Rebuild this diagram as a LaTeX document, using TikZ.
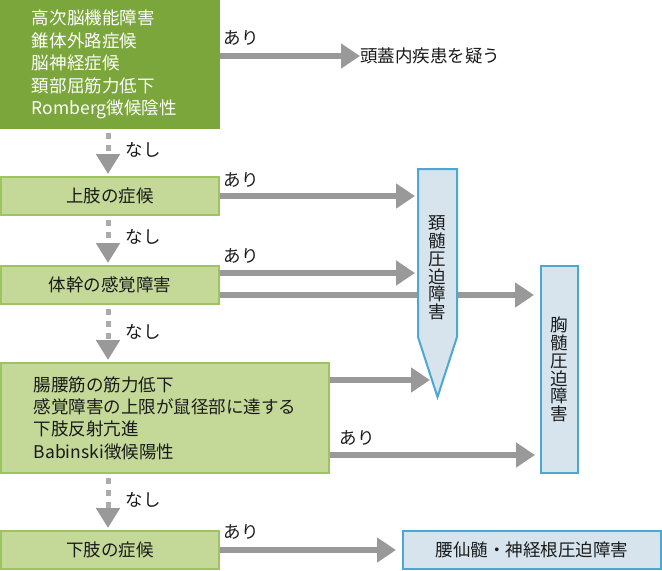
\documentclass[tikz,border=0pt]{standalone}
\usepackage{fontspec}
\setmainfont{Noto Sans CJK JP}
\usetikzlibrary{arrows.meta}

\definecolor{darkgreen}{HTML}{7AA63B}
\definecolor{lightfill}{HTML}{C4D998}
\definecolor{lightborder}{HTML}{9DC45E}
\definecolor{bluefill}{HTML}{D7E4EE}
\definecolor{blueborder}{HTML}{4AA8D2}
\definecolor{arrowgray}{HTML}{999999}
\definecolor{dashgray}{HTML}{ABABAB}
\definecolor{textblack}{HTML}{1A1A1A}

\tikzset{
  darkbox/.style={fill=darkgreen, text=white, inner sep=0pt, align=left},
  lightbox/.style={draw=lightborder, line width=1pt, fill=lightfill, text=textblack, inner sep=0pt},
  bluebox/.style={draw=blueborder, line width=1pt, fill=bluefill, text=textblack, inner sep=0pt},
  ari/.style={draw=arrowgray, line width=2.75pt, -{Triangle[length=9.5pt,width=12pt]}},
  nashi/.style={draw=dashgray, line width=2.5pt, dash pattern=on 3pt off 3pt,
    shorten <=2pt, shorten >=1pt, -{Triangle[length=10pt,width=11.5pt,color=arrowgray]}},
  lbl/.style={inner sep=0pt, text=textblack}
}

\begin{document}
\begin{tikzpicture}[x=0.5pt, y=-0.5pt, font=\fontsize{8.75pt}{11.2pt}\selectfont]
					\useasboundingbox (0,0) rectangle (662,570);
					\coordinate (col) at (108,0);
					% left column
					\node[darkbox, text width=78pt, minimum width=110pt, minimum height=64.5pt] (top) at (110,64.5) {高次脳機能障害\\錐体外路症候\\脳神経症候\\頚部屈筋力低下\\Romberg徴候陰性};
					\node[lightbox, minimum width=109pt, minimum height=19pt] (upper) at (110,196) {上肢の症候};
					\node[lightbox, minimum width=109pt, minimum height=19pt] (trunk) at (110,285) {体幹の感覚障害};
					\node[lightbox, minimum width=164pt, minimum height=55pt, align=left] (lower) at (165,418) {腸腰筋の筋力低下\\感覚障害の上限が鼠径部に達する\\下肢反射亢進\\Babinski徴候陽性};
					\node[lightbox, minimum width=109pt, minimum height=19pt] (leg) at (110,550) {下肢の症候};
					% right side
					\node[lbl, anchor=west] (sus) at (360,56) {頭蓋内疾患を疑う};
					\coordinate (cnw) at (418,169);
					\coordinate (cne) at (457,169);
					\coordinate (cse) at (457,337);
					\coordinate (ctip) at (437.5,397);
					\coordinate (csw) at (418,337);
					\coordinate (cslant) at (430,380);
					\node[bluebox, minimum width=18.5pt, minimum height=103.5pt, align=center, font=\fontsize{8.75pt}{8.9pt}\selectfont] (thor) at (559.5,369.5) {胸\\髄\\圧\\迫\\障\\害};
					\node[bluebox, minimum width=129pt, minimum height=19pt] (lumb) at (532,550) {腰仙髄・神経根圧迫障害};

					\draw[ari] ([yshift=4.25pt]top.east) -- (sus.west);
					\draw[ari, shorten >=1.5pt] (upper.east) -- (upper.east -| cnw);
					\draw[ari, shorten >=1.5pt] ([yshift=6pt]trunk.east) -- ([yshift=6pt]trunk.east -| cnw);
					\draw[ari, shorten >=3pt] ([yshift=-5pt]trunk.east) -- ([yshift=-5pt]trunk.east -| thor.west);
					\draw[ari] (lower.east |- cslant) -- (cslant);
					\draw[ari, shorten >=2.5pt] ([yshift=-18.5pt]lower.east) -- ([yshift=-18.5pt]lower.east -| thor.west);
					\draw[ari, shorten >=3pt] (leg.east) -- (lumb.west);
					\node[lbl] (a1) at (241,38) {あり};
					\node[lbl] (a2) at (241,180) {あり};
					\node[lbl] (a3) at (241,256) {あり};
					\node[lbl] (a4) at (357,438) {あり};
					\node[lbl] (a5) at (241,532) {あり};

					% cervical box over the arrows
					\filldraw[draw=blueborder, fill=bluefill, line width=1pt] (cnw) -- (cne) -- (cse) -- (ctip) -- (csw) -- cycle;
					\node[lbl, align=center, font=\fontsize{8.75pt}{8.9pt}\selectfont] (cerv) at (437.5,268) {頚\\髄\\圧\\迫\\障\\害};

					\draw[nashi] (top.south -| col) -- (upper.north -| col);
					\draw[nashi] (upper.south -| col) -- (trunk.north -| col);
					\draw[nashi] (trunk.south -| col) -- (lower.north -| col);
					\draw[nashi] (lower.south -| col) -- (leg.north -| col);
					\node[lbl] (n1) at (143,150) {なし};
					\node[lbl] (n2) at (143,237) {なし};
					\node[lbl] (n3) at (143,332) {なし};
					\node[lbl] (n4) at (143,500) {なし};
				\end{tikzpicture}
\end{document}
